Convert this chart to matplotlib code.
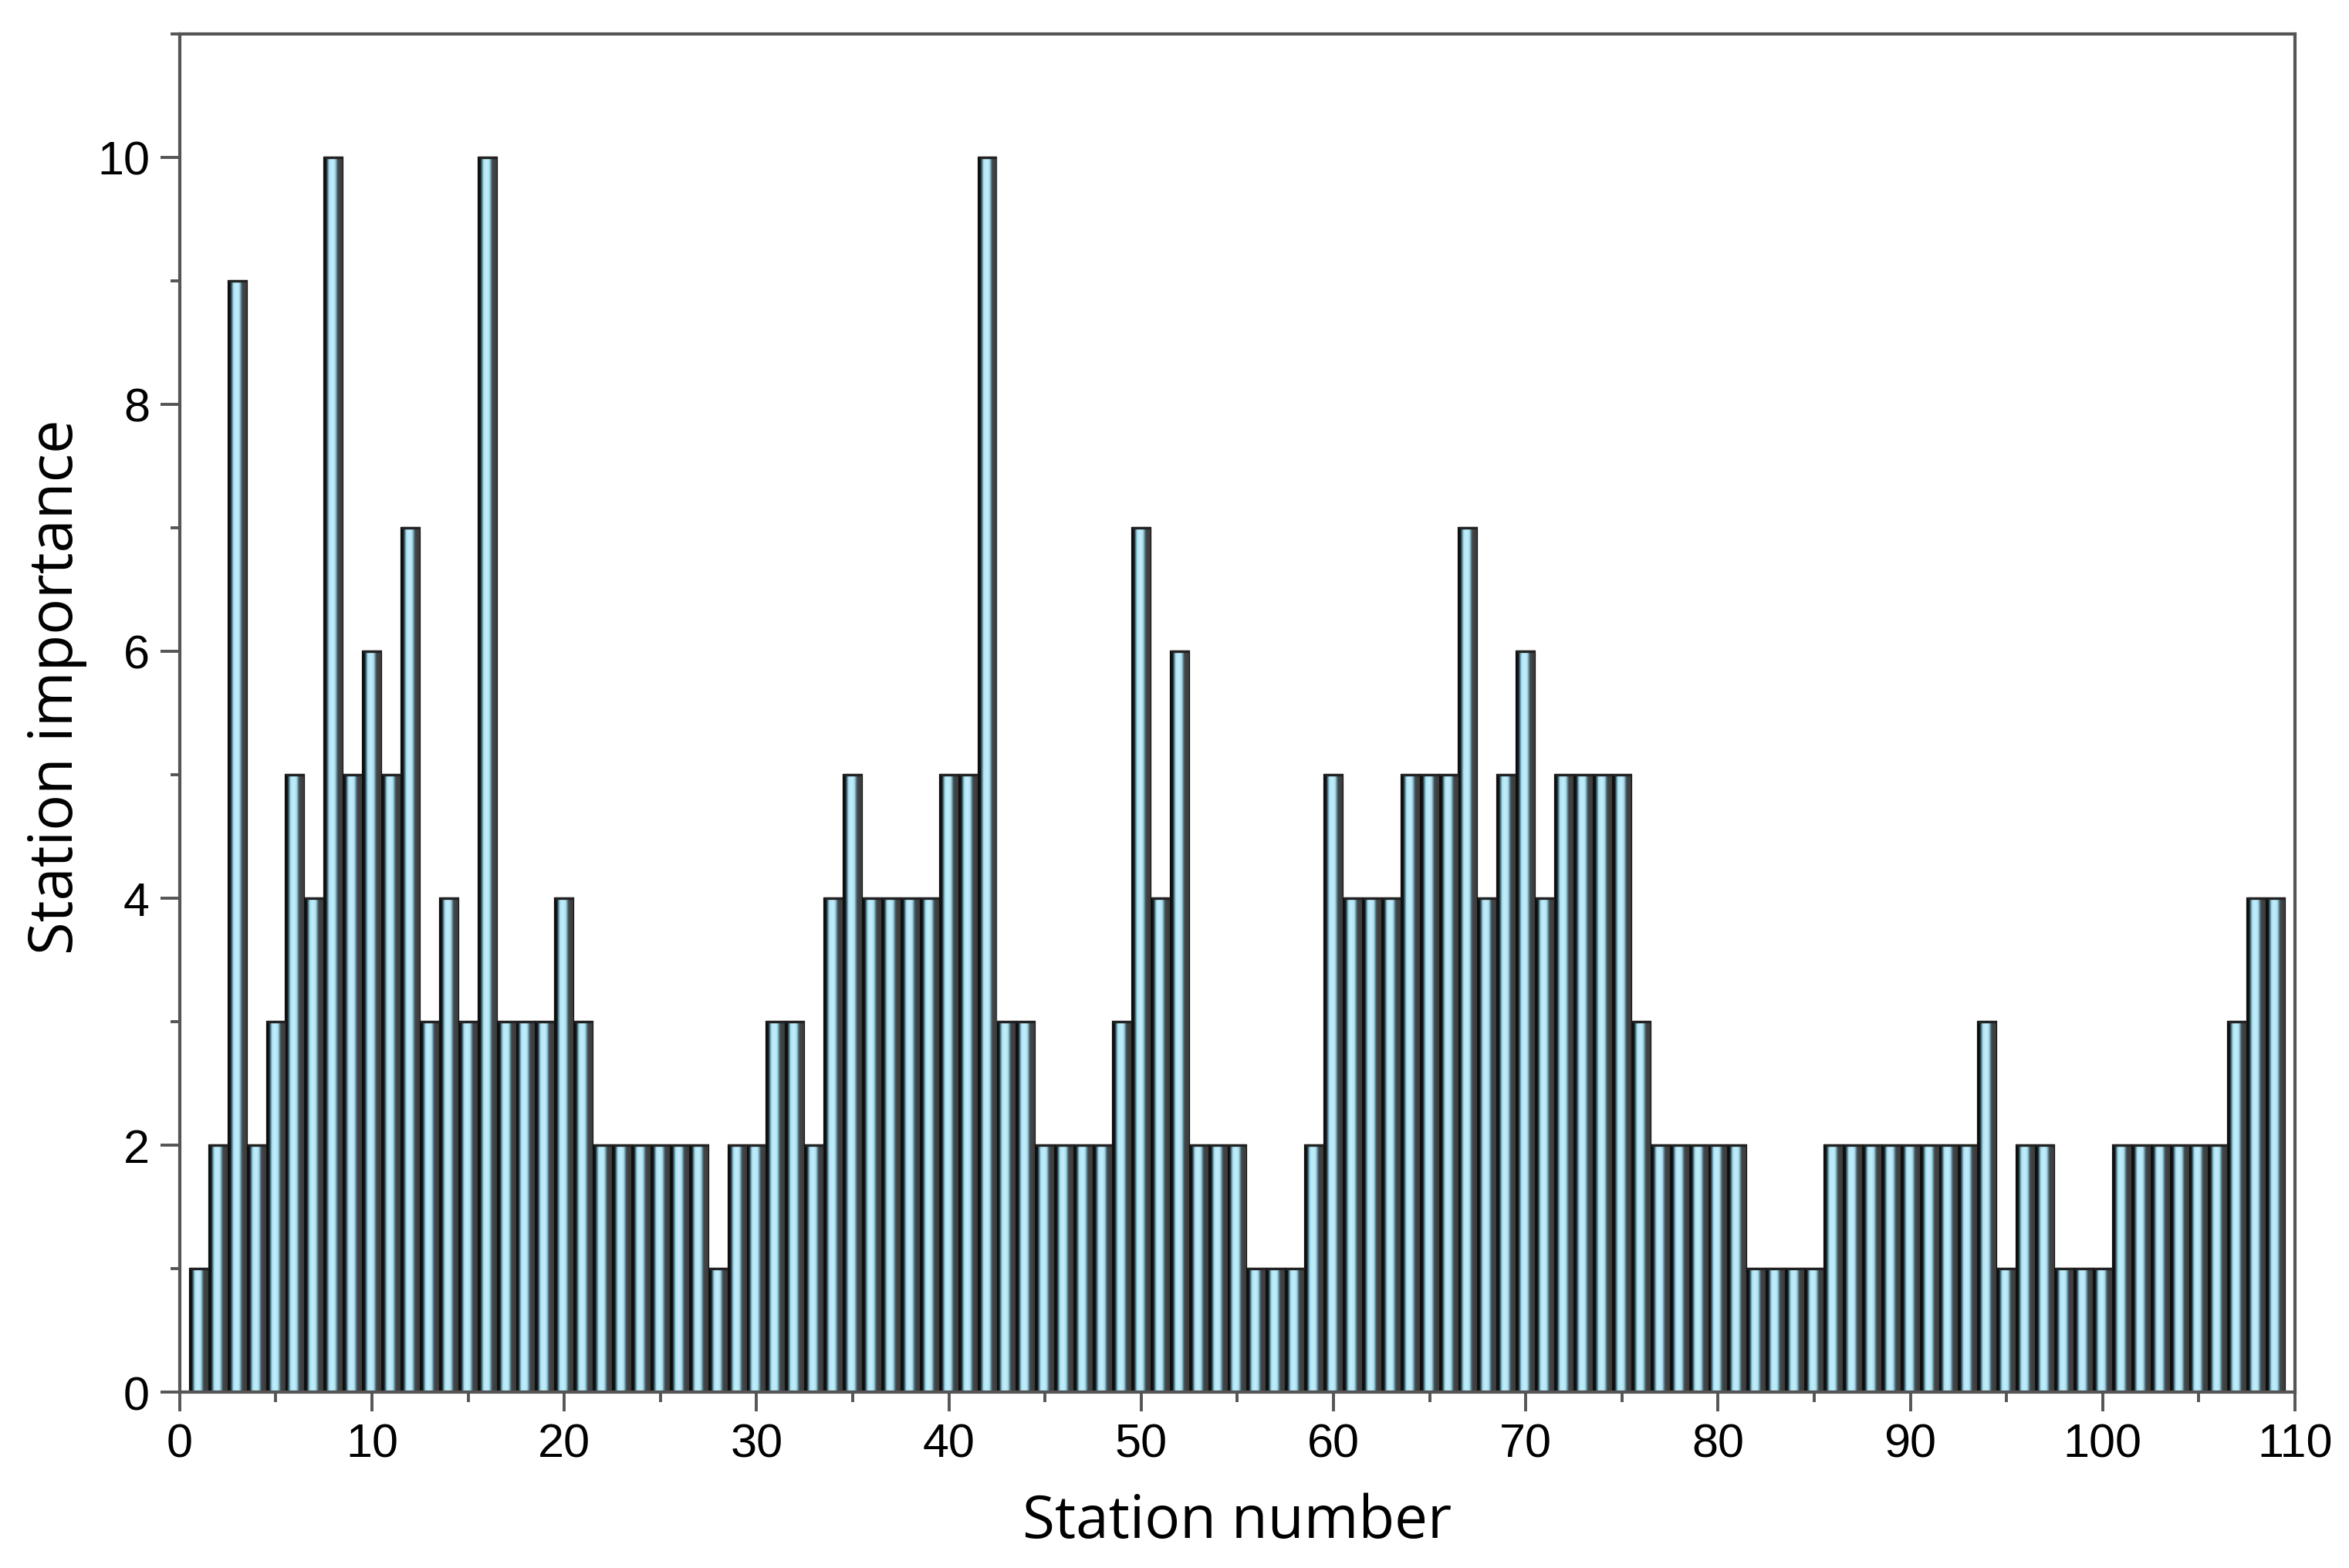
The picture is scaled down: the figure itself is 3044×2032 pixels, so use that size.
"""
Station importance bar chart.
"""

import matplotlib
matplotlib.use("Agg")
import matplotlib.pyplot as plt
import numpy as np
from matplotlib.colors import LinearSegmentedColormap
from matplotlib.ticker import MultipleLocator

# %% Data
stations = np.arange(1, 110)
importance = [
    1, 2, 9, 2, 3, 5, 4, 10, 5, 6,        # 1-10
    5, 7, 3, 4, 3, 10, 3, 3, 3, 4,        # 11-20
    3, 2, 2, 2, 2, 2, 2, 1, 2, 2,         # 21-30
    3, 3, 2, 4, 5, 4, 4, 4, 4, 5,         # 31-40
    5, 10, 3, 3, 2, 2, 2, 2, 3, 7,        # 41-50
    4, 6, 2, 2, 2, 1, 1, 1, 2, 5,         # 51-60
    4, 4, 4, 5, 5, 5, 7, 4, 5, 6,         # 61-70
    4, 5, 5, 5, 5, 3, 2, 2, 2, 2,         # 71-80
    2, 1, 1, 1, 1, 2, 2, 2, 2, 2,         # 81-90
    2, 2, 2, 3, 1, 2, 2, 1, 1, 1,         # 91-100
    2, 2, 2, 2, 2, 2, 3, 4, 4,            # 101-109
]
x_ticks = np.arange(0, 111, 10)
y_ticks = np.arange(0, 11, 2)

label_font = ["Open Sans", "DejaVu Sans"]
tick_font = ["Liberation Sans", "DejaVu Sans"]
axis_grey = "#555555"

# shading across each bar (left -> right), glossy cylinder look
bar_cmap = LinearSegmentedColormap.from_list(
    "bar_shade",
    [(0.00, "#0a0a0a"), (0.11, "#141a1d"), (0.19, "#4f8799"),
     (0.28, "#b2e4f4"), (0.45, "#c3eefb"), (0.59, "#ade0f0"),
     (0.67, "#6d99a8"), (0.75, "#454749"), (1.00, "#3b3b3b")])
gradient = np.linspace(0, 1, 64).reshape(1, -1)

# %% Plot
fig = plt.figure(figsize=(15.22, 10.165), dpi=200)
ax = fig.add_axes([0.0765, 0.112, 0.9005, 0.866])

bars = ax.bar(stations, importance, width=0.96, color="#b9e8f7",
              edgecolor="#111111", linewidth=0.8, zorder=2)
for b in bars:
    x0, w, h = b.get_x(), b.get_width(), b.get_height()
    ax.imshow(gradient, cmap=bar_cmap, aspect="auto", interpolation="bilinear",
              extent=[x0, x0 + w, 0, h], zorder=2.5)
    ax.plot([x0, x0 + w], [h, h], color="#222222", lw=1.2, zorder=3,
            solid_capstyle="butt")

ax.set_xlim(0, 110)
ax.set_ylim(0, 11)
ax.set_xticks(x_ticks)
ax.set_yticks(y_ticks)
ax.xaxis.set_minor_locator(MultipleLocator(5))
ax.yaxis.set_minor_locator(MultipleLocator(1))

for s in ax.spines.values():
    s.set_color(axis_grey)
    s.set_linewidth(1.5)
ax.tick_params(which="major", direction="out", length=9, width=1.4,
               color=axis_grey, labelsize=22, pad=5)
ax.tick_params(which="minor", direction="out", length=4.5, width=1.4,
               color=axis_grey)
for lab in ax.get_xticklabels() + ax.get_yticklabels():
    lab.set_family(tick_font)

ax.set_xlabel("Station number", fontsize=27.5, family=label_font, labelpad=12)
ax.set_ylabel("Station importance", fontsize=28, family=label_font,
              labelpad=4.5, y=0.52)

plt.savefig("out.png", dpi=200, facecolor="white")
